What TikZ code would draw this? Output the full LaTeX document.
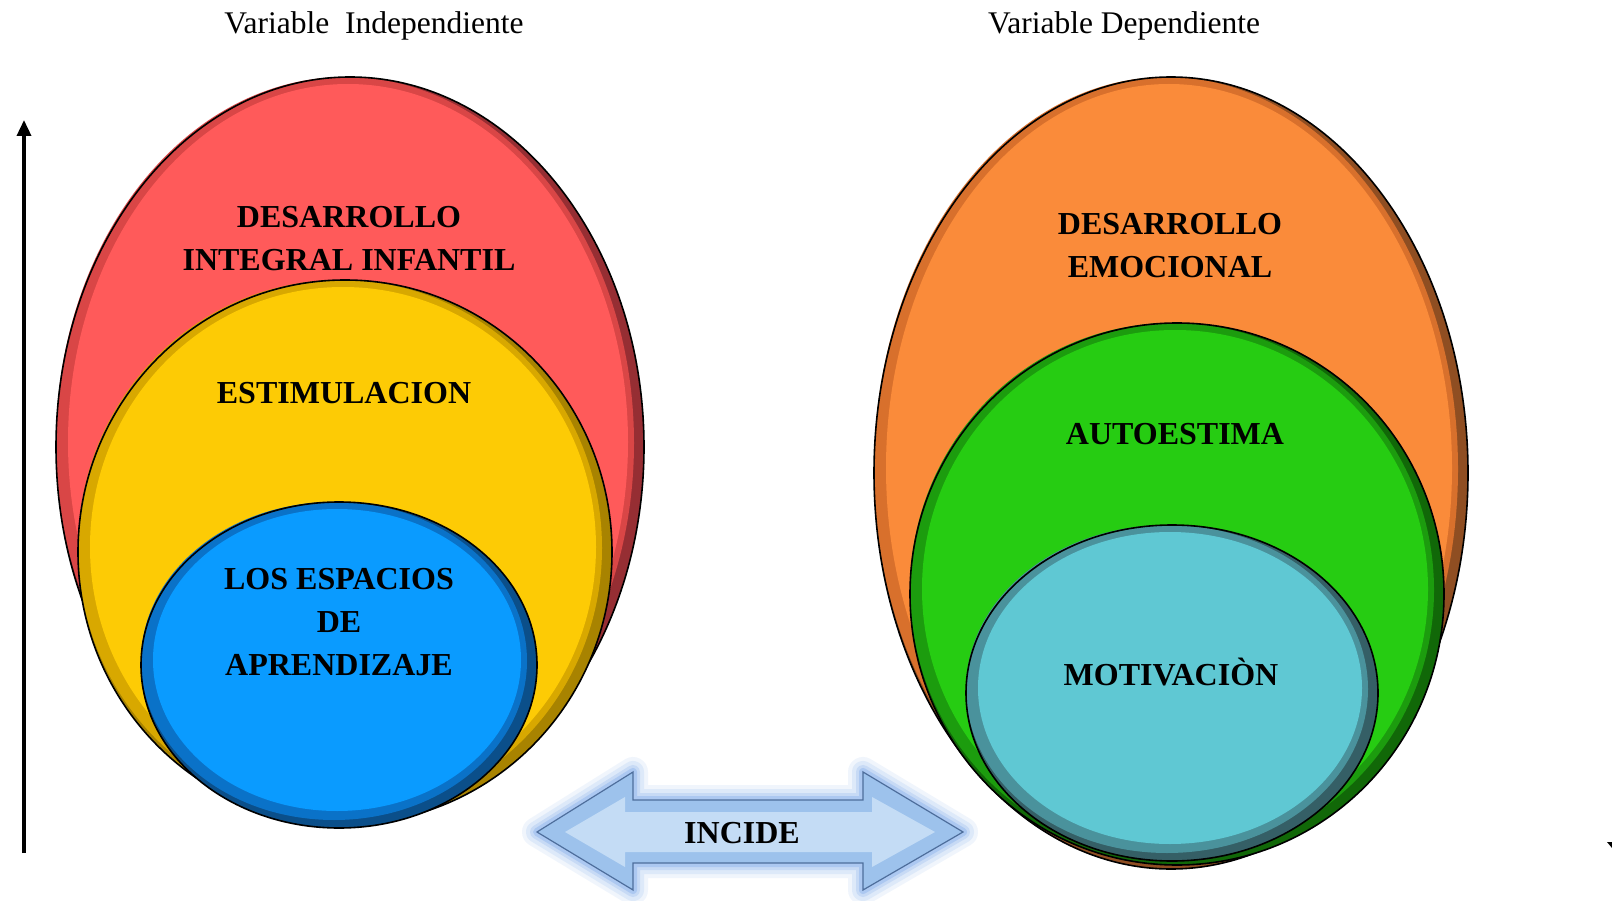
\documentclass[tikz,border=0pt]{standalone}
\usepackage{fontspec}
\setmainfont{Liberation Serif}
\usetikzlibrary{arrows.meta}
\definecolor{redM}{HTML}{FF5A5A}\definecolor{redR}{HTML}{D94646}\definecolor{redD}{HTML}{962E33}
\definecolor{yelM}{HTML}{FDCB05}\definecolor{yelR}{HTML}{D8A800}\definecolor{yelD}{HTML}{A88300}
\definecolor{bluM}{HTML}{0A9BFF}\definecolor{bluR}{HTML}{0A72C8}\definecolor{bluD}{HTML}{0B4F8A}
\definecolor{orM}{HTML}{FA8B3A}\definecolor{orR}{HTML}{D8702C}\definecolor{orD}{HTML}{8F4E22}
\definecolor{grM}{HTML}{26CC12}\definecolor{grR}{HTML}{1C9C0E}\definecolor{grD}{HTML}{116808}
\definecolor{teM}{HTML}{5FC8D3}\definecolor{teR}{HTML}{4A929C}\definecolor{teD}{HTML}{355F66}
\definecolor{incGlow}{HTML}{6FA0E8}\definecolor{incEdge}{HTML}{4E6E9C}
\definecolor{incOut}{HTML}{9DC2EC}\definecolor{incIn}{HTML}{C4DCF5}
\newcommand\ovallayer[7]{%
  \fill[#7] (#1,#2) ellipse [x radius=#3pt, y radius=#4pt];
  \fill[#6] ({#1-5},{#2-4}) ellipse [x radius={(#3-5)*1pt}, y radius={(#4-4)*1pt}];
  \fill[#5] ({#1-2},{#2-5}) ellipse [x radius={(#3-14)*1pt}, y radius={(#4-12)*1pt}];
  \draw[line width=1.6pt, black] (#1,#2) ellipse [x radius=#3pt, y radius=#4pt];
}
\tikzset{
  lbl/.style={anchor=base, inner sep=0pt, font=\fontsize{32}{43}\selectfont\bfseries},
  head/.style={anchor=base, inner sep=0pt, font=\fontsize{31.5}{40}\selectfont},
  axisarrow/.style={line width=3.5pt, -{Triangle[width=14pt,length=16pt]}},
}
\begin{document}
\begin{tikzpicture}[x=1pt,y=-1pt]
\useasboundingbox (0,0) rectangle (1612,901);
\fill[white] (0,0) rectangle (1612,901);

% headings
\node[head] (vi) at (374,34) {Variable\ \ Independiente};
\node[head] (vd) at (1124,34) {Variable Dependiente};

% vertical axis
\coordinate (axb) at (24,853);
\coordinate (axt) at (24,120);
\draw[axisarrow] (axb) -- (axt);

% left set of ovals
\ovallayer{350}{447}{294}{370}{redM}{redR}{redD}
\ovallayer{345}{552}{267}{272}{yelM}{yelR}{yelD}
\ovallayer{339}{665}{198}{163}{bluM}{bluR}{bluD}

% right set of ovals
\ovallayer{1171}{473}{297}{396}{orM}{orR}{orD}
\ovallayer{1177}{594}{267}{271}{grM}{grR}{grD}
\ovallayer{1172}{693}{206}{168}{teM}{teR}{teD}

% labels
\node[lbl] (d1) at (349,228) {DESARROLLO};
\node[lbl] (d2) at (349,271) {INTEGRAL INFANTIL};
\node[lbl] (es) at (344,403) {ESTIMULACION};
\node[lbl] (l1) at (339,589) {LOS ESPACIOS};
\node[lbl] (l2) at (339,632) {DE};
\node[lbl] (l3) at (339,675) {APRENDIZAJE};
\node[lbl] (e1) at (1170,235) {DESARROLLO};
\node[lbl] (e2) at (1170,278) {EMOCIONAL};
\node[lbl] (au) at (1175,444) {AUTOESTIMA};
\node[lbl] (mo) at (1171,685) {MOTIVACIÒN};

% INCIDE double arrow
\foreach \w/\o in {30/0.10,22/0.14,14/0.2,8/0.3}{
  \draw[incGlow, line width=\w pt, opacity=\o, line join=round]
    (537,832) -- (633,772) -- (633,800) -- (863,800) -- (863,772) -- (963,832)
    -- (863,890) -- (863,863) -- (633,863) -- (633,890) -- cycle;
}
\fill[incOut] (537,832) -- (633,772) -- (633,800) -- (863,800) -- (863,772) -- (963,832)
    -- (863,890) -- (863,863) -- (633,863) -- (633,890) -- cycle;
\fill[incIn] (565,832) -- (625,797) -- (625,812) -- (872,812) -- (872,797) -- (935,832)
    -- (872,867) -- (872,852) -- (625,852) -- (625,867) -- cycle;
\draw[incEdge, line width=1.2pt, line join=miter]
    (537,832) -- (633,772) -- (633,800) -- (863,800) -- (863,772) -- (963,832)
    -- (863,890) -- (863,863) -- (633,863) -- (633,890) -- cycle;
\node[lbl] (inc) at (742,843) {INCIDE};

% cut-off mark at the right edge
\fill (1607,842) -- (1612,842) -- (1612,848) -- cycle;
\end{tikzpicture}
\end{document}
